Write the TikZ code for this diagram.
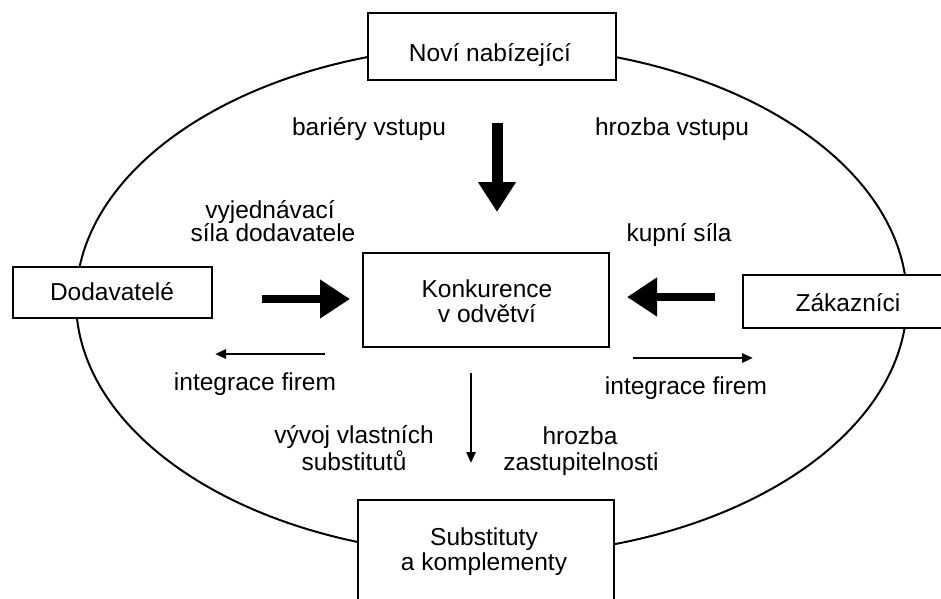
\documentclass[tikz,border=0pt]{standalone}
\usepackage{fontspec}
\setmainfont{Liberation Sans}
\usetikzlibrary{arrows.meta}
\begin{document}
\begin{tikzpicture}[x=1pt,y=-1pt,
 box/.style={draw, line width=2.8pt, fill=white, inner sep=0pt, rectangle},
 lbl/.style={inner sep=0pt, anchor=base, font=\fontsize{24.5}{26.5}\selectfont},
 bigarrow/.style={line width=8.5pt, -{Triangle[length=30pt,width=37pt]}},
 thinarrow/.style={line width=2.8pt, -{Triangle[length=11pt,width=9pt]}}]
\useasboundingbox (0,0) rectangle (941,598);
\fill[white] (0,0) rectangle (941,598);
\draw[line width=2pt] (491.5,300.5) ellipse [x radius=415.5, y radius=255];
% boxes
\node[box, minimum width=248pt, minimum height=67pt] (nov) at (492,46.5) {};
\node[box, minimum width=199pt, minimum height=51pt] (dod) at (112.5,292.5) {};
\node[box, minimum width=212pt, minimum height=53pt] (zak) at (849,301.5) {};
\node[box, minimum width=246pt, minimum height=94pt] (kon) at (486,300) {};
\node[box, minimum width=256pt, minimum height=114pt] (sub) at (486,557) {};
% labels
\node[lbl] (tnov) at (490,61.5) {Noví nabízející};
\node[lbl] (tdod) at (112,300) {Dodavatelé};
\node[lbl] (tzak) at (848,311.5) {Zákazníci};
\node[lbl] (tkon1) at (487,297) {Konkurence};
\node[lbl] (tkon2) at (487,322) {v odvětví};
\node[lbl] (tsub1) at (484,545) {Substituty};
\node[lbl] (tsub2) at (484,570) {a komplementy};
\node[lbl] (tbar) at (369,135) {bariéry vstupu};
\node[lbl] (thrv) at (672,135) {hrozba vstupu};
\node[lbl] (tvyj1) at (270,218) {vyjednávací};
\node[lbl] (tvyj2) at (273,241) {síla dodavatele};
\node[lbl] (tkup) at (679,241) {kupní síla};
\node[lbl] (tint1) at (255,390) {integrace firem};
\node[lbl] (tint2) at (686,394) {integrace firem};
\node[lbl] (tvyv1) at (354,443) {vývoj vlastních};
\node[lbl] (tvyv2) at (354,470) {substitutů};
\node[lbl] (thro1) at (580,444) {hrozba};
\node[lbl] (thro2) at (581,470) {zastupitelnosti};
% arrows
\coordinate (a1s) at (497,123); \coordinate (a1e) at (497,212);
\draw[bigarrow, line width=11pt, -{Triangle[length=30pt,width=36pt]}] (a1s) -- (a1e);
\coordinate (a2s) at (262,299); \coordinate (a2e) at (350,299);
\draw[bigarrow] (a2s) -- (a2e);
\coordinate (a3s) at (715,297); \coordinate (a3e) at (627,297);
\draw[bigarrow] (a3s) -- (a3e);
\coordinate (a4s) at (325,354); \coordinate (a4e) at (215,354);
\draw[thinarrow] (a4s) -- (a4e);
\coordinate (a5s) at (633,358); \coordinate (a5e) at (753,358);
\draw[thinarrow] (a5s) -- (a5e);
\coordinate (a6s) at (471,373); \coordinate (a6e) at (471,463);
\draw[thinarrow] (a6s) -- (a6e);
\end{tikzpicture}
\end{document}
